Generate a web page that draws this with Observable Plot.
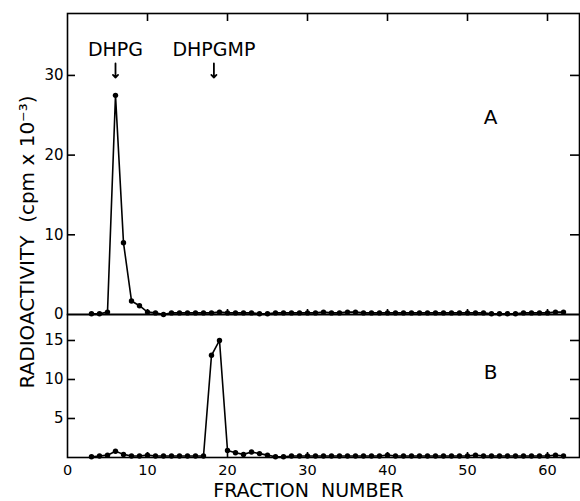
<!DOCTYPE html>
<html>
<head>
<meta charset="utf-8">
<script src="https://cdn.jsdelivr.net/npm/d3@7"></script>
<script src="https://cdn.jsdelivr.net/npm/@observablehq/plot@0.6"></script>
<style>
  body { margin: 0; background: #fff; }
  #wrap { position: relative; width: 580px; height: 501px; background: #fff; }
  #wrap svg { position: absolute; left: 0; overflow: visible; background: transparent; }
</style>
</head>
<body>
<div id="wrap"></div>
<script>
// ---- data ----
const fractions = [3,4,5,6,7,8,9,10,11,12,13,14,15,16,17,18,19,20,21,22,23,24,25,26,27,28,29,30,31,32,
  33,34,35,36,37,38,39,40,41,42,43,44,45,46,47,48,49,50,51,52,53,54,55,56,57,58,59,60,61,62];
const activityA = [0.1,0.1,0.3,27.5,9.0,1.7,1.1,0.3,0.2,0.0,
  0.2,0.2,0.2,0.2,0.2,0.2,0.3,0.2,0.2,0.2,
  0.2,0.1,0.1,0.2,0.2,0.2,0.2,0.2,0.2,0.3,
  0.2,0.2,0.3,0.3,0.2,0.2,0.2,0.2,0.2,0.2,
  0.2,0.2,0.2,0.2,0.2,0.2,0.2,0.2,0.2,0.2,
  0.1,0.1,0.1,0.1,0.2,0.2,0.2,0.2,0.3,0.3];
const activityB = [0.1,0.2,0.3,0.8,0.4,0.2,0.2,0.3,0.2,0.2,
  0.2,0.2,0.2,0.2,0.2,13.1,15.0,0.9,0.6,0.4,
  0.7,0.5,0.3,0.1,0.1,0.2,0.2,0.2,0.2,0.2,
  0.2,0.2,0.2,0.2,0.2,0.2,0.2,0.3,0.2,0.2,
  0.2,0.2,0.2,0.2,0.2,0.2,0.2,0.2,0.3,0.2,
  0.2,0.2,0.2,0.2,0.2,0.2,0.2,0.2,0.3,0.2];
const xTicks = [0,10,20,30,40,50,60];
const yTicksA = [0,10,20,30];
const yTicksB = [5,10,15];
const peakLabels = ["DHPG","DHPGMP"];
const peakFractions = [6, 18.3];
const panelLabels = ["A","B"];
const yTitle = "RADIOACTIVITY \u00a0(cpm x 10\u207b\u00b3)";
const xTitle = "FRACTION \u00a0NUMBER";

// ---- tables ----
const rowsA = fractions.map((f, i) => ({fraction: f, cpm: activityA[i]}));
const rowsB = fractions.map((f, i) => ({fraction: f, cpm: activityB[i]}));
const peaks = peakLabels.map((label, i) => ({label, fraction: peakFractions[i]}));
const innerX = xTicks.filter(d => d > 0);

const W = 580, ML = 67, MR = 1;
const plotW = W - ML - MR;
const font = "DejaVu Sans";
const baseStyle = {fontFamily: font, fontSize: "15px", color: "black", background: "transparent", overflow: "visible"};
const lw = 1.6;

// ---- panel A ----
const hA = 315, mtA = 13, mbA = 1;
const innerHA = hA - mtA - mbA;
const plotA = Plot.plot({
  width: W, height: hA, marginLeft: ML, marginRight: MR, marginTop: mtA, marginBottom: mbA,
  style: baseStyle,
  x: {domain: [0, 64], axis: null, label: null},
  y: {domain: [0, 37.77], label: null},
  marks: [
    Plot.frame({stroke: "black", strokeWidth: 1.6}),
    Plot.axisY(yTicksA, {tickSize: 0, tickPadding: 4, label: null, fontSize: 15}),
    Plot.tickY(yTicksA.filter(d => d > 0), {y: d => d, insetRight: plotW - 8, strokeWidth: 1.6}),
    Plot.tickY(yTicksA.filter(d => d > 0), {y: d => d, insetLeft: plotW - 9, strokeWidth: 1.6}),
    Plot.tickX(innerX, {x: d => d, insetBottom: innerHA - 8, strokeWidth: 1.6}),
    Plot.tickX(innerX, {x: d => d, insetTop: innerHA - 5, strokeWidth: 1.6}),
    Plot.line(rowsA, {x: "fraction", y: "cpm", stroke: "black", strokeWidth: lw}),
    Plot.dot(rowsA, {x: "fraction", y: "cpm", r: 2.7, fill: "black", stroke: "none"}),
    Plot.text(peaks, {x: "fraction", text: "label", frameAnchor: "top", lineAnchor: "middle", dy: 36.5, fontSize: 19}),
    Plot.vector(peaks, {x: "fraction", frameAnchor: "top", dy: 50, length: 14, rotate: 180, anchor: "start", r: 3.2, stroke: "black", strokeWidth: 1.8}),
    Plot.text([panelLabels[0]], {frameAnchor: "top-right", textAnchor: "middle", lineAnchor: "middle", dx: -89, dy: 104.5, fontSize: 20}),
    Plot.text([yTitle], {frameAnchor: "left", rotate: -90, textAnchor: "middle", lineAnchor: "middle", dx: -40, dy: 78, fontSize: 20})
  ]
});

// ---- panel B ----
const hB = 187, mtB = 0, mbB = 44;
const innerHB = hB - mtB - mbB;
const plotB = Plot.plot({
  width: W, height: hB, marginLeft: ML, marginRight: MR, marginTop: mtB, marginBottom: mbB,
  style: baseStyle,
  x: {domain: [0, 64], label: null},
  y: {domain: [0, 18.33], label: null},
  marks: [
    Plot.frame({stroke: "black", strokeWidth: 1.6}),
    Plot.axisY(yTicksB, {tickSize: 0, tickPadding: 4, label: null, fontSize: 15}),
    Plot.axisX(xTicks, {tickSize: 0, tickPadding: 7, label: null, fontSize: 14.5}),
    Plot.tickY(yTicksB, {y: d => d, insetRight: plotW - 8, strokeWidth: 1.6}),
    Plot.tickY(yTicksB, {y: d => d, insetLeft: plotW - 9, strokeWidth: 1.6}),
    Plot.tickX(innerX, {x: d => d, insetTop: innerHB - 5, strokeWidth: 1.6}),
    Plot.line(rowsB, {x: "fraction", y: "cpm", stroke: "black", strokeWidth: lw}),
    Plot.dot(rowsB, {x: "fraction", y: "cpm", r: 2.7, fill: "black", stroke: "none"}),
    Plot.text([panelLabels[1]], {frameAnchor: "top-right", textAnchor: "middle", lineAnchor: "middle", dx: -89, dy: 58.5, fontSize: 20}),
    Plot.text([xTitle], {frameAnchor: "bottom", textAnchor: "middle", lineAnchor: "middle", dx: -15, dy: 33, fontSize: 19})
  ]
});

const wrap = document.getElementById("wrap");
plotA.style.top = "0px";
plotB.style.top = "314px";
wrap.appendChild(plotA);
wrap.appendChild(plotB);
</script>
</body>
</html>
